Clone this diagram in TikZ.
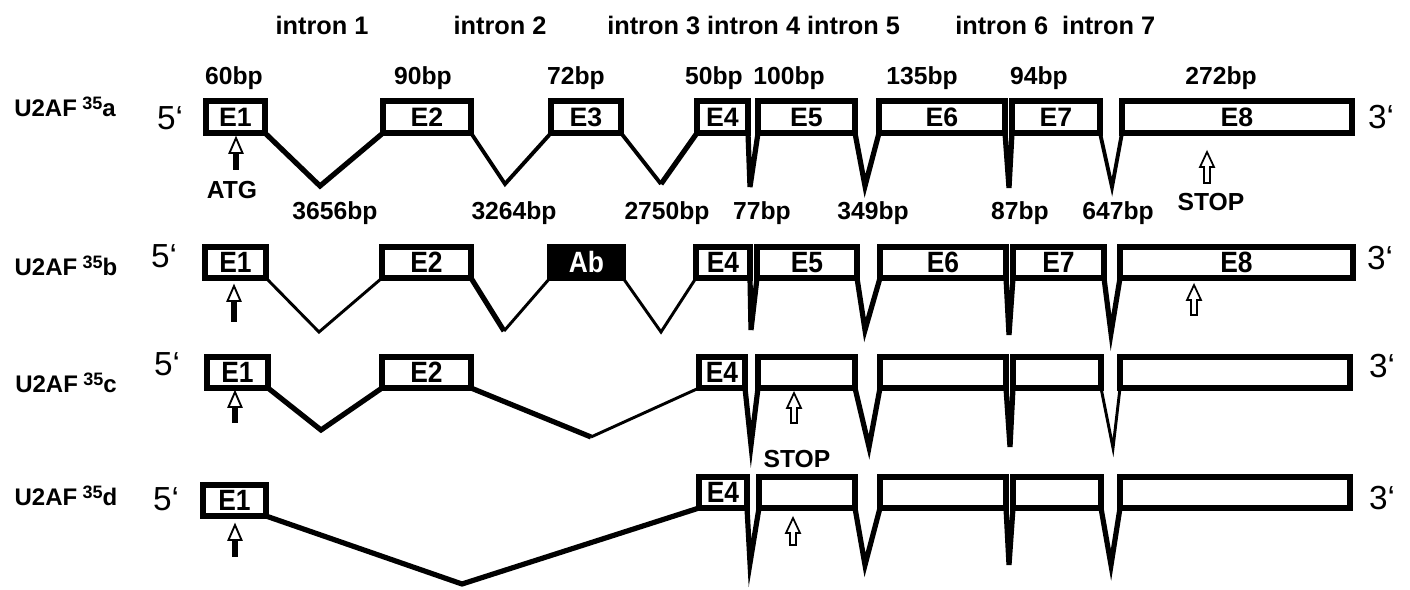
\documentclass[tikz,border=0pt]{standalone}
\usepackage{fontspec}
\setmainfont{Liberation Sans}
\usepackage{graphicx}
\newcommand\ex[7][]{%
  \node[exon,#1,minimum width={(#4-#3)*0.75pt},minimum height={(#6-#5)*0.75pt}] (#2) at ({(#3+#4)/2},{(#5+#6)/2}) {#7};}
\newcommand\atgarrow[3]{%
  \fill (#1-3,#3) rectangle (#1+3,{#2+13});
  \draw[line width=1.4pt,fill=white,line join=miter] (#1,#2) -- (#1+6.5,{#2+15}) -- (#1-6.5,{#2+15}) -- cycle;}
\newcommand\stoparrow[3]{%
  \draw[line width=1.3pt,fill=white,line join=miter] (#1,#2) -- (#1+7,{#2+15}) -- (#1+3,{#2+15}) -- (#1+3,#3) -- (#1-3,#3) -- (#1-3,{#2+15}) -- (#1-7,{#2+15}) -- cycle;}
\newcommand\nb[1]{\scalebox{0.9}[1]{#1}}
\begin{document}
\begin{tikzpicture}[x=0.75pt,y=-0.75pt,
  exon/.style={draw,line width=3.9pt,fill=white,inner sep=0pt,outer sep=0pt,font=\bfseries\fontsize{20}{20}\selectfont},
  exonb/.style={font=\bfseries\fontsize{22}{22}\selectfont},
  dark/.style={fill=black,text=white},
  lbl/.style={font=\bfseries\fontsize{18.5}{18.5}\selectfont,inner sep=0pt},
  ttl/.style={font=\bfseries\fontsize{19}{19}\selectfont,inner sep=0pt},
  prime/.style={font=\fontsize{25}{25}\selectfont,inner sep=0pt},
  rowlbl/.style={font=\bfseries\fontsize{18}{18}\selectfont,inner sep=0pt},
  ithick/.style={line width=3.9pt},
  imed/.style={line width=2.9pt},
  ithin/.style={line width=2.2pt}]
\useasboundingbox (0,0) rectangle (1410,589);
% ---- title row
\node[ttl] (t1) at (322,25) {intron 1};
\node[ttl] (t2) at (500,25) {intron 2};
\node[ttl,anchor=west] (t3) at (607,25) {intron 3 intron 4 intron 5};
\node[ttl,anchor=west] (t6) at (955,25) {intron 6\ \ intron 7};
% ---- row labels
\newcommand\rl[1]{U2AF\hspace{4pt}\raisebox{0.6ex}{\fontsize{13.5}{13.5}\selectfont 35}#1}
\node[rowlbl] (la) at (65,107) {\rl{a}};
\node[rowlbl] (lb) at (66,266) {\rl{b}};
\node[rowlbl] (lc) at (66,383) {\rl{c}};
\node[rowlbl] (ld) at (66,496) {\rl{d}};
% ---- 5' and 3'
\node[prime] (fa) at (170,118) {5‘};
\node[prime] (fb) at (164,256) {5‘};
\node[prime] (fc) at (167,364) {5‘};
\node[prime] (fd) at (166,499) {5‘};
\node[prime] (ta) at (1381,117) {3‘};
\node[prime] (tb) at (1380,258) {3‘};
\node[prime] (tc) at (1382,366) {3‘};
\node[prime] (td) at (1382,498) {3‘};
% ---- row a
\ex{a1}{206}{265}{101}{133}{E1}
\ex{a2}{383}{471}{101}{133}{E2}
\ex{a3}{551}{621}{101}{133}{E3}
\ex{a4}{697}{748}{101}{133}{E4}
\ex{a5}{758}{855}{101}{133}{E5}
\ex{a6}{879}{1005}{101}{133}{E6}
\ex{a7}{1012}{1100}{101}{133}{E7}
\ex{a8}{1122}{1352}{101}{133}{E8}
\coordinate (va1) at (320,186);
\coordinate (va2) at (505,184);
\coordinate (va3) at (661,184);
\coordinate (va4) at (750,187);
\coordinate (va5) at (865,186);
\coordinate (va6) at (1009,188);
\coordinate (va7) at (1112,187);
\draw[ithick] (a1.south east) -- (va1) -- (a2.south west);
\draw[imed] (a2.south east) -- (va2) -- (a3.south west);
\draw[imed] (a3.south east) -- (va3);
\draw[ithick] (va3) -- (a4.south west);
\draw[ithick] (a4.south east) -- (va4) -- (a5.south west);
\draw[ithick] (a5.south east) -- (va5) -- (a6.south west);
\draw[ithick] (a6.south east) -- (va6) -- (a7.south west);
\draw[imed] (a7.south east) -- (va7) -- (a8.south west);
\node[lbl] (s1) at (234,78) {60bp};
\node[lbl] (s2) at (423,78) {90bp};
\node[lbl] (s3) at (576,78) {72bp};
\node[lbl] (s4) at (714,78) {50bp};
\node[lbl] (s5) at (789,78) {100bp};
\node[lbl] (s6) at (922,78) {135bp};
\node[lbl] (s7) at (1039,78) {94bp};
\node[lbl] (s8) at (1221,78) {272bp};
\node[lbl] (i1) at (335,213) {3656bp};
\node[lbl] (i2) at (514,213) {3264bp};
\node[lbl] (i3) at (667,213) {2750bp};
\node[lbl] (i4) at (762,213) {77bp};
\node[lbl] (i5) at (873,213) {349bp};
\node[lbl] (i6) at (1020,213) {87bp};
\node[lbl] (i7) at (1118,213) {647bp};
\node[lbl] (stopa) at (1211,202) {STOP};
\node[lbl] (atg) at (232,190) {ATG};
\atgarrow{236}{138}{170}
\stoparrow{1207}{152}{183}
% ---- row b
\ex[exonb]{b1}{205}{266}{247}{278}{\nb{E1}}
\ex[exonb]{b2}{382}{471}{247}{278}{\nb{E2}}
\ex[exonb,dark]{b3}{550}{623}{247}{278}{\nb{Ab}}
\ex[exonb]{b4}{696}{750}{247}{278}{\nb{E4}}
\ex[exonb]{b5}{757}{857}{247}{278}{\nb{E5}}
\ex[exonb]{b6}{880}{1006}{247}{278}{\nb{E6}}
\ex[exonb]{b7}{1013}{1104}{247}{278}{\nb{E7}}
\ex[exonb]{b8}{1120}{1353}{247}{278}{\nb{E8}}
\coordinate (vb1) at (319,332);
\coordinate (vb2) at (504,331);
\coordinate (vb3) at (661,332);
\coordinate (vb4) at (751,330);
\coordinate (vb5) at (865,330);
\coordinate (vb6) at (1009,335);
\coordinate (vb7) at (1111,333);
\draw[ithin] (b1.south east) -- (vb1) -- (b2.south west);
\draw[ithick] (b2.south east) -- (vb2);
\draw[ithin] (vb2) -- (b3.south west);
\draw[ithin] (b3.south east) -- (vb3) -- (b4.south west);
\draw[ithick] (b4.south east) -- (vb4) -- (b5.south west);
\draw[ithick] (b5.south east) -- (vb5) -- (b6.south west);
\draw[ithick] (b6.south east) -- (vb6) -- (b7.south west);
\draw[ithick] (b7.south east) -- (vb7) -- (b8.south west);
\atgarrow{234}{286}{322}
\stoparrow{1194}{285}{315}
% ---- row c
\ex[exonb]{c1}{207}{268}{357}{388}{\nb{E1}}
\ex[exonb]{c2}{382}{471}{357}{388}{\nb{E2}}
\ex[exonb]{c4}{699}{745}{357}{388}{\nb{E4}}
\ex{c5}{758}{855}{357}{388}{}
\ex{c6}{880}{1006}{357}{388}{}
\ex{c7}{1013}{1101}{357}{388}{}
\ex{c8}{1120}{1350}{357}{388}{}
\coordinate (vc1) at (321,430);
\coordinate (vc2) at (591,437);
\coordinate (vc4) at (751,445);
\coordinate (vc5) at (869,447);
\coordinate (vc6) at (1010,447);
\coordinate (vc7) at (1113,448);
\draw[ithick] (c1.south east) -- (vc1) -- (c2.south west);
\draw[ithick] (c2.south east) -- (vc2);
\draw[ithin] (vc2) -- (c4.south west);
\draw[ithick] (c4.south east) -- (vc4) -- (c5.south west);
\draw[ithick] (c5.south east) -- (vc5) -- (c6.south west);
\draw[ithick] (c6.south east) -- (vc6) -- (c7.south west);
\draw[ithin] (c7.south east) -- (vc7) -- (c8.south west);
\atgarrow{235}{392}{423}
\stoparrow{794}{393}{423}
\node[lbl] (stopc) at (797,459) {STOP};
% ---- row d
\ex[exonb]{d1}{203}{266}{485}{516}{\nb{E1}}
\ex[exonb]{d4}{699}{747}{477}{508}{\nb{E4}}
\ex{d5}{759}{855}{477}{508}{}
\ex{d6}{880}{1006}{477}{508}{}
\ex{d7}{1013}{1101}{477}{508}{}
\ex{d8}{1120}{1350}{477}{508}{}
\coordinate (vd1) at (462,584);
\coordinate (vd4) at (750,563);
\coordinate (vd5) at (865,565);
\coordinate (vd6) at (1009,565);
\coordinate (vd7) at (1111,565);
\draw[ithick] (d1.south east) -- (vd1) -- (d4.south west);
\draw[ithick] (d4.south east) -- (vd4) -- (d5.south west);
\draw[ithick] (d5.south east) -- (vd5) -- (d6.south west);
\draw[ithick] (d6.south east) -- (vd6) -- (d7.south west);
\draw[ithick] (d7.south east) -- (vd7) -- (d8.south west);
\atgarrow{235}{525}{557}
\stoparrow{793}{518}{545}
\end{tikzpicture}
\end{document}
